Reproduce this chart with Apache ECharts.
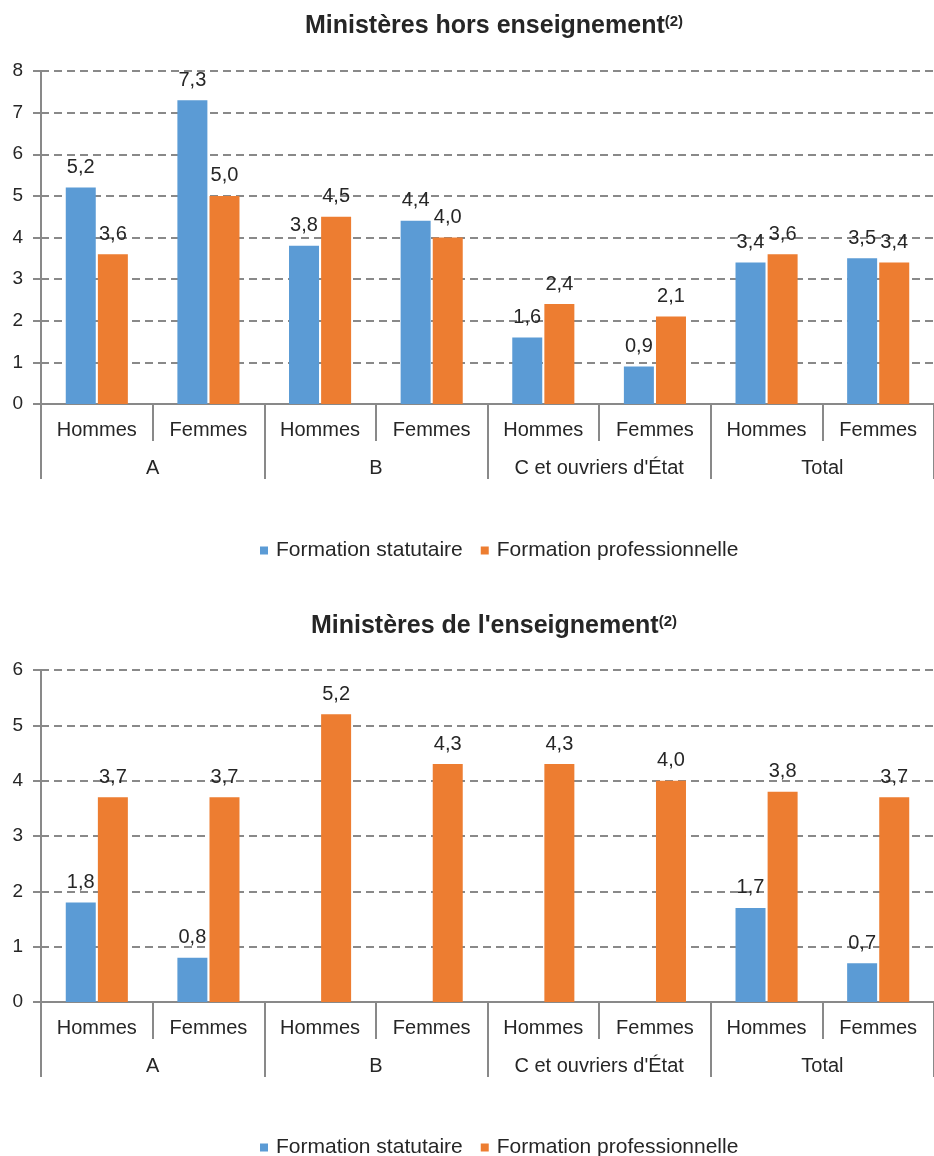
<!DOCTYPE html>
<html>
<head>
<meta charset="utf-8">
<script src="https://cdn.jsdelivr.net/npm/echarts@6/dist/echarts.min.js"></script>
<style>
  html, body { margin: 0; padding: 0; background: #fff; }
  #chart { width: 934px; height: 1156px; }
</style>
</head>
<body>
<div id="chart"></div>
<script>
  // sous-catégories et groupes de l'axe horizontal
  const sexes = ['Hommes', 'Femmes', 'Hommes', 'Femmes', 'Hommes', 'Femmes', 'Hommes', 'Femmes'];
  const groups = ['A', 'B', "C et ouvriers d'État", 'Total'];
  const seriesNames = ['Formation statutaire', 'Formation professionnelle'];

  // Ministères hors enseignement
  const horsStatutaire = [5.2, 7.3, 3.8, 4.4, 1.6, 0.9, 3.4, 3.5];
  const horsPro = [3.6, 5.0, 4.5, 4.0, 2.4, 2.1, 3.6, 3.4];

  // Ministères de l'enseignement
  const ensStatutaire = [1.8, 0.8, null, null, null, null, 1.7, 0.7];
  const ensPro = [3.7, 3.7, 5.2, 4.3, 4.3, 4.0, 3.8, 3.7];

  const BLUE = '#5B9BD5';
  const ORANGE = '#ED7D31';
  const GREY = '#898989';
  const TEXT = '#262626';
  const FONT = '"Liberation Sans", Arial, sans-serif';

  const chart = echarts.init(document.getElementById('chart'));

  function fmt(p) {
    return p.value == null ? '' : p.value.toFixed(1).replace('.', ',');
  }

  function title(text, top) {
    return {
      text: '{t|' + text + '}{s|(2)}',
      left: 489,
      textAlign: 'center',
      top: top,
      textStyle: {
        rich: {
          t: {fontFamily: FONT, fontSize: 25, fontWeight: 'bold', color: TEXT},
          s: {fontFamily: FONT, fontSize: 15, fontWeight: 'bold', color: TEXT, verticalAlign: 'top', padding: [0, 0, 10, 0]}
        }
      }
    };
  }

  function legend(top) {
    return {
      data: seriesNames,
      top: top,
      left: 255,
      icon: 'rect',
      itemWidth: 8,
      itemHeight: 8,
      itemGap: 18,
      textStyle: {fontFamily: FONT, fontSize: 21, color: TEXT, padding: [0, 0, 0, 3]}
    };
  }

  function sexAxis(gridIndex) {
    return {
      type: 'category',
      gridIndex: gridIndex,
      data: sexes,
      position: 'bottom',
      axisLine: {show: true, lineStyle: {color: GREY, width: 2}},
      axisTick: {show: true, interval: 0, length: 37, lineStyle: {color: GREY, width: 2}},
      axisLabel: {interval: 0, margin: 16, fontFamily: FONT, fontSize: 20, color: TEXT},
      splitLine: {show: false}
    };
  }

  function groupAxis(gridIndex) {
    return {
      type: 'category',
      gridIndex: gridIndex,
      data: groups,
      position: 'bottom',
      axisLine: {show: false},
      axisTick: {show: true, interval: 0, length: 75, lineStyle: {color: GREY, width: 2}},
      axisLabel: {interval: 0, margin: 54, fontFamily: FONT, fontSize: 20, color: TEXT},
      splitLine: {show: false}
    };
  }

  function valueAxis(gridIndex, max) {
    return {
      type: 'value',
      gridIndex: gridIndex,
      min: 0,
      max: max,
      interval: 1,
      axisLine: {show: true, lineStyle: {color: GREY, width: 2}},
      axisTick: {show: true, length: 8, lineStyle: {color: GREY, width: 2}},
      axisLabel: {margin: 18, fontFamily: FONT, fontSize: 19, color: TEXT},
      splitLine: {show: true, lineStyle: {color: GREY, width: 2, type: [8, 5]}}
    };
  }

  function bar(name, data, xIdx, yIdx, color) {
    return {
      name: name,
      type: 'bar',
      xAxisIndex: xIdx,
      yAxisIndex: yIdx,
      data: data,
      barWidth: 30,
      barGap: '7%',
      itemStyle: {color: color},
      label: {
        show: true,
        position: 'top',
        distance: 10,
        formatter: fmt,
        fontFamily: FONT,
        fontSize: 20,
        color: TEXT
      },
      animation: false
    };
  }

  const option = {
    backgroundColor: '#fff',
    animation: false,
    title: [
      title('Ministères hors enseignement', 9),
      title("Ministères de l'enseignement", 609)
    ],
    legend: [legend(535), legend(1132)],
    grid: [
      {left: 41, top: 71, width: 896, height: 333},
      {left: 41, top: 670, width: 896, height: 332}
    ],
    xAxis: [sexAxis(0), groupAxis(0), sexAxis(1), groupAxis(1)],
    yAxis: [valueAxis(0, 8), valueAxis(1, 6)],
    series: [
      bar(seriesNames[0], horsStatutaire, 0, 0, BLUE),
      bar(seriesNames[1], horsPro, 0, 0, ORANGE),
      bar(seriesNames[0], ensStatutaire, 2, 1, BLUE),
      bar(seriesNames[1], ensPro, 2, 1, ORANGE)
    ]
  };

  chart.setOption(option);
</script>
</body>
</html>
